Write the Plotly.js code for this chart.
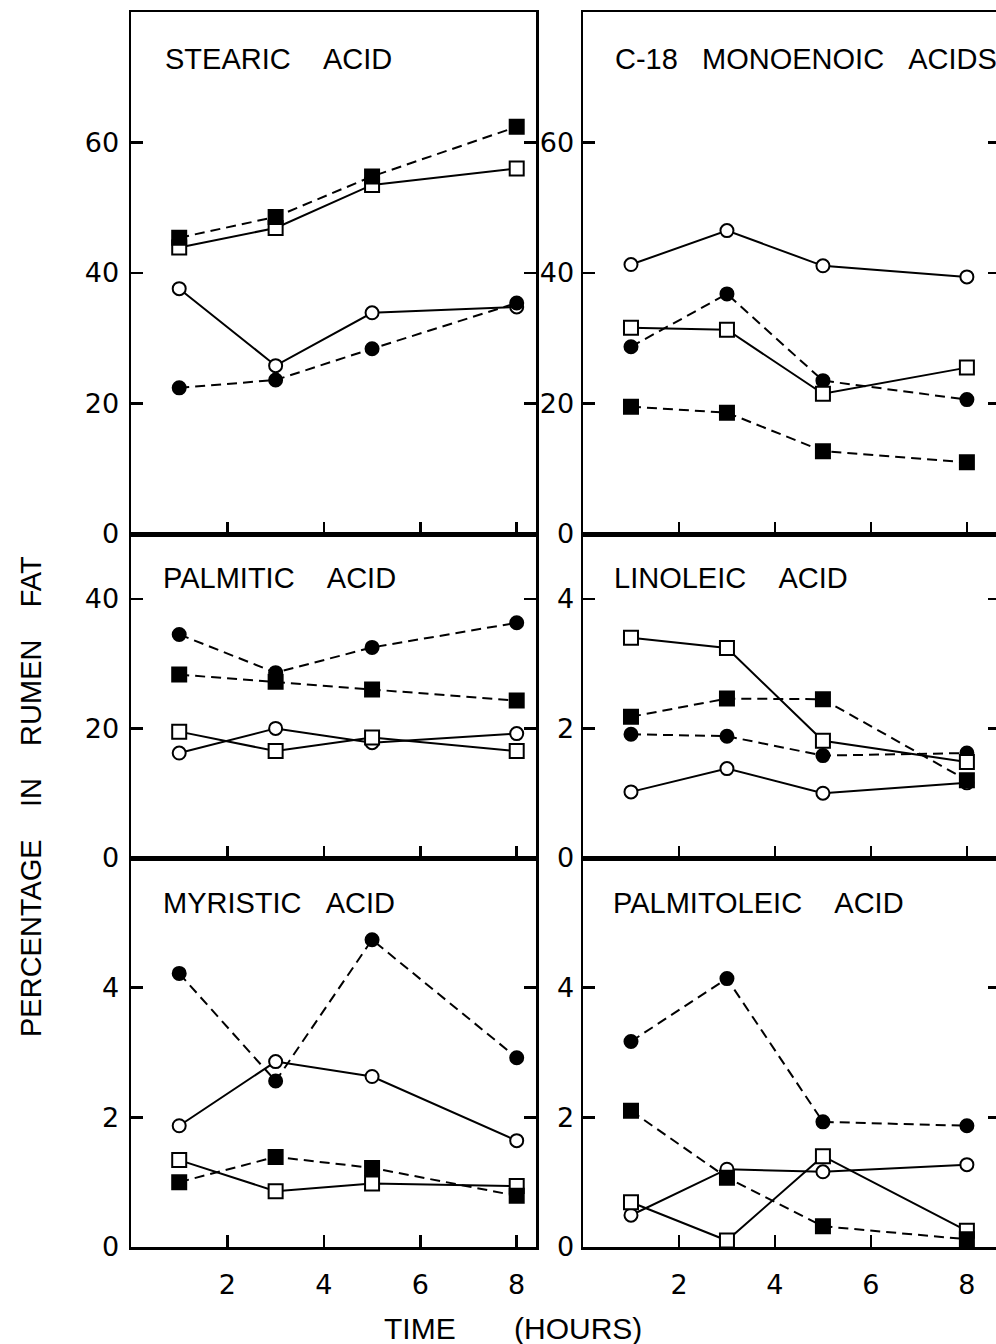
<!DOCTYPE html>
<html>
<head>
<meta charset="utf-8">
<script src="https://cdn.plot.ly/plotly-3.0.1.min.js"></script>
<style>
html,body{margin:0;padding:0;overflow:hidden;background:#fff;}
#chart{width:1010px;height:1344px;}
</style>
</head>
<body>
<div id="chart"></div>
<script>
// ---------- DATA ----------
const hours = [1, 3, 5, 8];

const panelTitles = [
  "STEARIC\u00a0\u00a0\u00a0\u00a0ACID",
  "C-18\u00a0\u00a0\u00a0MONOENOIC\u00a0\u00a0\u00a0ACIDS",
  "PALMITIC\u00a0\u00a0\u00a0\u00a0ACID",
  "LINOLEIC\u00a0\u00a0\u00a0\u00a0ACID",
  "MYRISTIC\u00a0\u00a0\u00a0ACID",
  "PALMITOLEIC\u00a0\u00a0\u00a0\u00a0ACID"
];

// open circle (solid line), filled circle (dashed), open square (solid), filled square (dashed)
const stearicOpenCircle   = [37.6, 25.8, 33.9, 34.8];
const stearicFilledCircle = [22.4, 23.6, 28.4, 35.4];
const stearicOpenSquare   = [43.9, 46.9, 53.5, 56.0];
const stearicFilledSquare = [45.4, 48.6, 54.8, 62.4];

const monoenoicOpenCircle   = [41.3, 46.5, 41.1, 39.4];
const monoenoicFilledCircle = [28.7, 36.8, 23.5, 20.6];
const monoenoicOpenSquare   = [31.6, 31.3, 21.5, 25.5];
const monoenoicFilledSquare = [19.5, 18.6, 12.7, 11.0];

const palmiticOpenCircle   = [16.2, 20.0, 17.8, 19.2];
const palmiticFilledCircle = [34.5, 28.6, 32.5, 36.3];
const palmiticOpenSquare   = [19.5, 16.5, 18.6, 16.5];
const palmiticFilledSquare = [28.3, 27.2, 26.0, 24.3];

const linoleicOpenCircle   = [1.02, 1.38, 1.00, 1.16];
const linoleicFilledCircle = [1.91, 1.88, 1.58, 1.62];
const linoleicOpenSquare   = [3.40, 3.24, 1.81, 1.48];
const linoleicFilledSquare = [2.18, 2.46, 2.45, 1.20];

const myristicOpenCircle   = [1.87, 2.86, 2.63, 1.64];
const myristicFilledCircle = [4.22, 2.56, 4.74, 2.92];
const myristicOpenSquare   = [1.34, 0.86, 0.98, 0.94];
const myristicFilledSquare = [1.00, 1.39, 1.22, 0.79];

const palmitoleicOpenCircle   = [0.49, 1.20, 1.16, 1.27];
const palmitoleicFilledCircle = [3.17, 4.14, 1.93, 1.87];
const palmitoleicOpenSquare   = [0.69, 0.10, 1.40, 0.25];
const palmitoleicFilledSquare = [2.10, 1.07, 0.32, 0.12];

const xTickVals = [2, 4, 6, 8];
const yTicksTop = [0, 20, 40, 60];
const yTicksMidLeft = [0, 20, 40];
const yTicksSmall = [0, 2, 4];

const xAxisTitle = "TIME\u00a0\u00a0\u00a0\u00a0\u00a0\u00a0\u00a0(HOURS)";
const yAxisTitle = "PERCENTAGE\u00a0\u00a0\u00a0\u00a0IN\u00a0\u00a0\u00a0\u00a0RUMEN\u00a0\u00a0\u00a0\u00a0FAT";

// ---------- LAYOUT GEOMETRY ----------
const W = 1010, H = 1344;
const FONT = "Liberation Sans, Arial, sans-serif";
const TICKFONT = "DejaVu Sans, sans-serif";

const panels = [
  {series:[stearicOpenCircle, stearicFilledCircle, stearicOpenSquare, stearicFilledSquare], col:0, row:0, yr:[0,80], yt:yTicksTop},
  {series:[monoenoicOpenCircle, monoenoicFilledCircle, monoenoicOpenSquare, monoenoicFilledSquare], col:1, row:0, yr:[0,80], yt:yTicksTop},
  {series:[palmiticOpenCircle, palmiticFilledCircle, palmiticOpenSquare, palmiticFilledSquare], col:0, row:1, yr:[0,50], yt:yTicksMidLeft},
  {series:[linoleicOpenCircle, linoleicFilledCircle, linoleicOpenSquare, linoleicFilledSquare], col:1, row:1, yr:[0,5], yt:yTicksSmall},
  {series:[myristicOpenCircle, myristicFilledCircle, myristicOpenSquare, myristicFilledSquare], col:0, row:2, yr:[0,6], yt:yTicksSmall},
  {series:[palmitoleicOpenCircle, palmitoleicFilledCircle, palmitoleicOpenSquare, palmitoleicFilledSquare], col:1, row:2, yr:[0,6], yt:yTicksSmall}
];

const colPx = [[131, 536], [583, 1000]];
const colRange = [[0, 8.4], [0, 8.69]];
const rowPx = [[12, 534], [534, 858], [858, 1247]];
const titlePos = [[163, 59], [613, 59], [161, 578], [612, 578], [161, 903], [611, 903]];

const styles = [
  {symbol:'circle', fill:'#ffffff', size:13, dash:'solid'},
  {symbol:'circle', fill:'#000000', size:13, dash:'10px,6px'},
  {symbol:'square', fill:'#ffffff', size:14, dash:'solid'},
  {symbol:'square', fill:'#000000', size:14, dash:'10px,6px'}
];

const traces = [];
const layout = {
  width: W, height: H,
  margin: {l:0, r:0, t:0, b:0},
  paper_bgcolor: '#ffffff',
  plot_bgcolor: '#ffffff',
  showlegend: false,
  annotations: []
};

panels.forEach((p, i) => {
  const n = i + 1;
  const xa = 'x' + (n === 1 ? '' : n);
  const ya = 'y' + (n === 1 ? '' : n);
  p.series.forEach((vals, k) => {
    const s = styles[k];
    traces.push({
      type: 'scatter', mode: 'lines+markers',
      x: hours, y: vals, xaxis: xa, yaxis: ya,
      cliponaxis: false,
      line: {color:'#000', width:2, dash:s.dash},
      marker: {symbol:s.symbol, size:s.size, color:s.fill, line:{color:'#000', width:2}},
      hoverinfo: 'x+y'
    });
  });
  const cp = colPx[p.col], rp = rowPx[p.row];
  const common = {
    showline: true, linecolor: '#000', linewidth: 2.5,
    ticks: 'inside', ticklen: 12, tickwidth: 2.5, tickcolor: '#000',
    showgrid: false, zeroline: false, fixedrange: true,
    tickfont: {family: TICKFONT, size: 27, color: '#000'}
  };
  layout['xaxis' + (n === 1 ? '' : n)] = Object.assign({}, common, {
    domain: [cp[0] / W, cp[1] / W],
    range: colRange[p.col],
    anchor: ya,
    mirror: true,
    tickmode: 'array', tickvals: xTickVals,
    showticklabels: p.row === 2,
    ticklabelstandoff: 12
  });
  layout['yaxis' + (n === 1 ? '' : n)] = Object.assign({}, common, {
    domain: [1 - rp[1] / H, 1 - rp[0] / H],
    range: p.yr,
    anchor: xa,
    mirror: 'ticks',
    tickmode: 'array', tickvals: p.yt,
    ticklabelstandoff: p.col === 0 ? 4 : 1
  });
  layout.annotations.push({
    text: panelTitles[i], xref:'paper', yref:'paper',
    x: titlePos[i][0] / W, y: 1 - titlePos[i][1] / H,
    xanchor:'left', yanchor:'middle', showarrow:false,
    font:{family:FONT, size:29, color:'#000'}
  });
});

layout.annotations.push({
  text: xAxisTitle, xref:'paper', yref:'paper',
  x: 513 / W, y: 1 - 1328 / H, xanchor:'center', yanchor:'middle', showarrow:false,
  font:{family:FONT, size:30, color:'#000'}
});
layout.annotations.push({
  text: yAxisTitle, xref:'paper', yref:'paper',
  x: 31 / W, y: 1 - 797 / H, xanchor:'center', yanchor:'middle', showarrow:false,
  textangle: -90,
  font:{family:FONT, size:29, color:'#000'}
});

Plotly.newPlot('chart', traces, layout, {displayModeBar:false, staticPlot:true});
</script>
</body>
</html>
